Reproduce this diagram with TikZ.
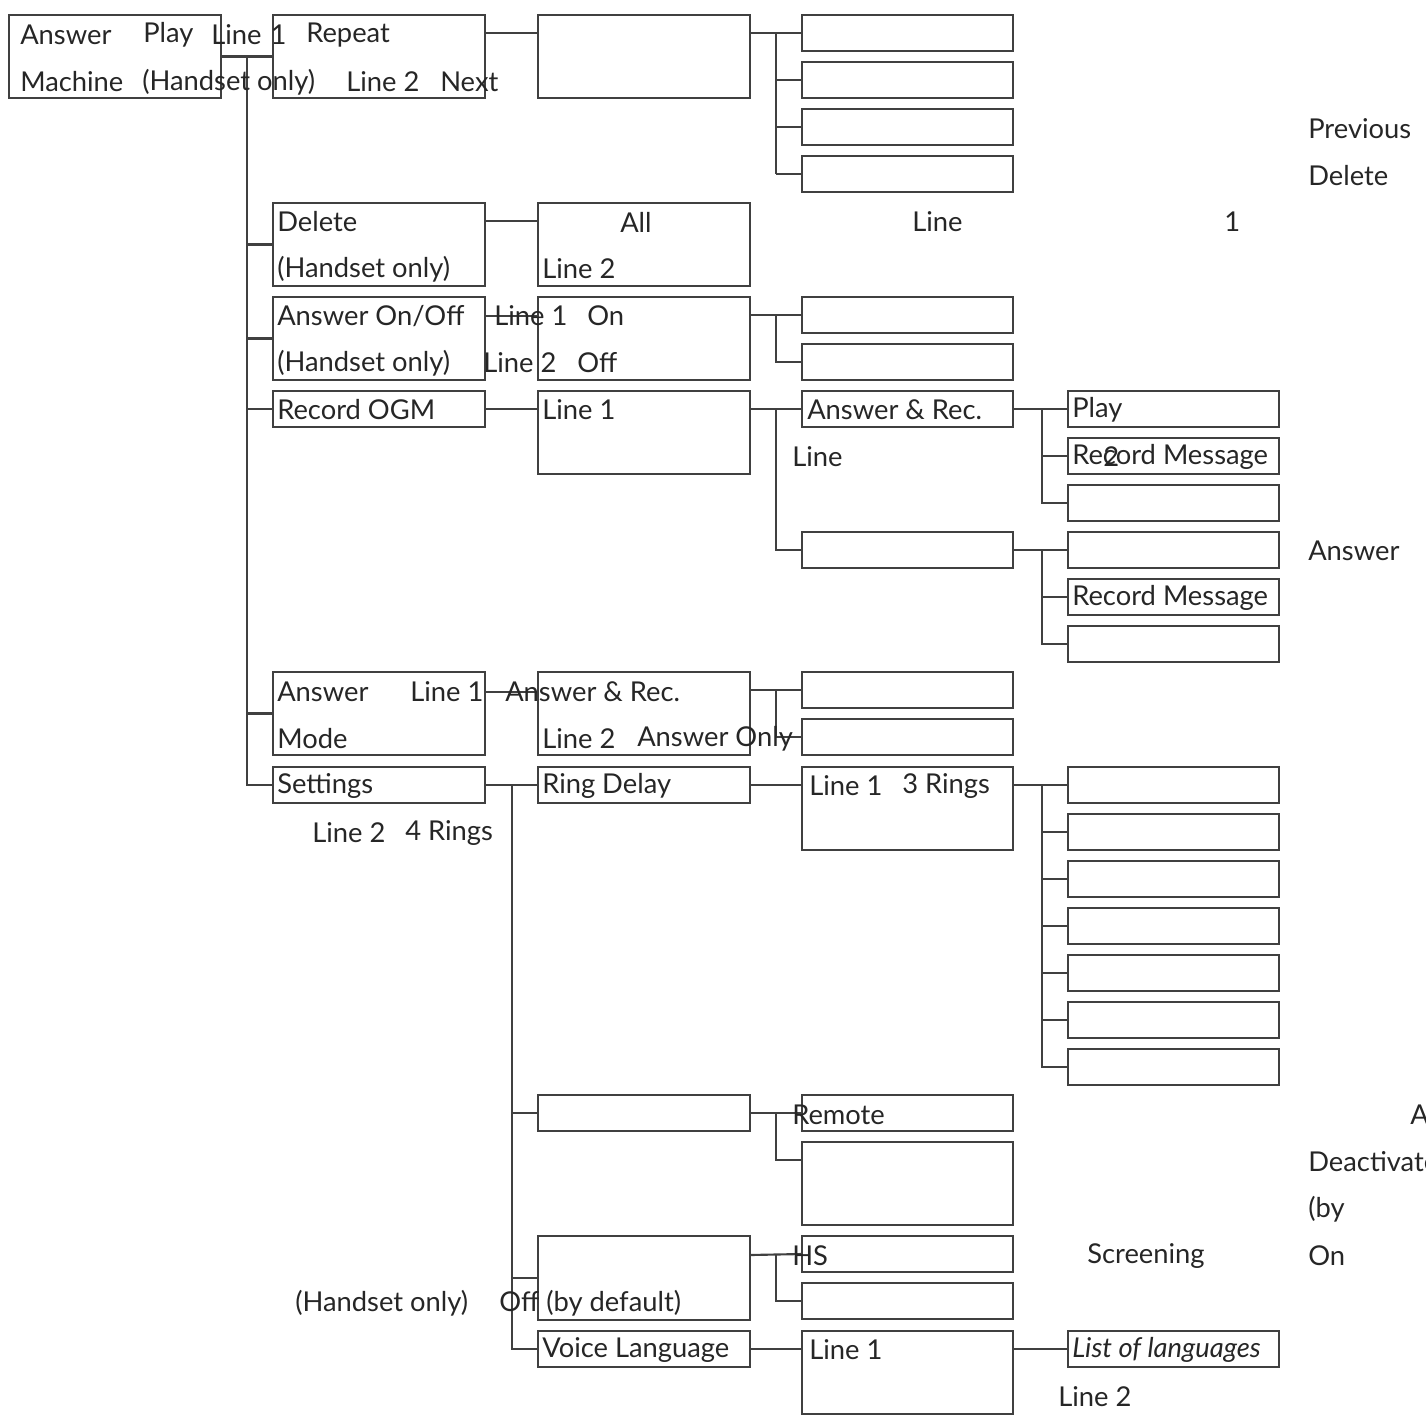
\documentclass[tikz,border=0pt]{standalone}
\usepackage{fontspec}
\setmainfont{Lato}
\begin{document}
\begin{tikzpicture}[x=0.75pt,y=-0.75pt,
 box/.style={draw=black!75,line width=1.6pt,inner sep=0pt,outer sep=0pt,anchor=north west},
 ln/.style={draw=black!75,line width=1.6pt},
 t/.style={anchor=west,inner sep=0pt,font=\fontsize{20.5}{24}\selectfont,text=black!85}]
\useasboundingbox (0,0) rectangle (1426,1420);
\clip (0,0) rectangle (1426,1420);
\newcommand\bx[5]{\node[box,minimum width={(#4-#2)*0.75pt},minimum height={(#5-#3)*0.75pt}] (#1) at (#2,#3) {};}
% column A
\bx{a}{9}{15}{221}{98}
% column B
\bx{b1}{273}{15}{485}{98}
\bx{b2}{273}{203}{485}{286}
\bx{b3}{273}{297}{485}{380}
\bx{b4}{273}{391}{485}{427}
\bx{b5}{273}{672}{485}{755}
\bx{b6}{273}{767}{485}{803}
% column C
\bx{c1}{538}{15}{750}{98}
\bx{c2}{538}{203}{750}{286}
\bx{c3}{538}{297}{750}{380}
\bx{c4}{538}{391}{750}{474}
\bx{c5}{538}{672}{750}{755}
\bx{c6}{538}{767}{750}{803}
\bx{c7}{538}{1095}{750}{1131}
\bx{c8}{538}{1236}{750}{1320}
\bx{c9}{538}{1331}{750}{1367}
% column D
\bx{d1}{802}{15}{1013}{51}
\bx{d2}{802}{62}{1013}{98}
\bx{d3}{802}{109}{1013}{145}
\bx{d4}{802}{156}{1013}{192}
\bx{d5}{802}{297}{1013}{333}
\bx{d6}{802}{344}{1013}{380}
\bx{d7}{802}{391}{1013}{427}
\bx{d8}{802}{532}{1013}{568}
\bx{d9}{802}{672}{1013}{708}
\bx{d10}{802}{719}{1013}{755}
\bx{d11}{802}{767}{1013}{850}
\bx{d12}{802}{1095}{1013}{1131}
\bx{d13}{802}{1142}{1013}{1225}
\bx{d14}{802}{1236}{1013}{1272}
\bx{d15}{802}{1283}{1013}{1319}
\bx{d16}{802}{1331}{1013}{1414}
% column E
\bx{e1}{1068}{391}{1279}{427}
\bx{e2}{1068}{438}{1279}{474}
\bx{e3}{1068}{485}{1279}{521}
\bx{e4}{1068}{532}{1279}{568}
\bx{e5}{1068}{579}{1279}{615}
\bx{e6}{1068}{626}{1279}{662}
\bx{e7}{1068}{767}{1279}{803}
\bx{e8}{1068}{814}{1279}{850}
\bx{e9}{1068}{861}{1279}{897}
\bx{e10}{1068}{908}{1279}{944}
\bx{e11}{1068}{955}{1279}{991}
\bx{e12}{1068}{1002}{1279}{1038}
\bx{e13}{1068}{1049}{1279}{1085}
\bx{e14}{1068}{1331}{1279}{1367}
% A -> B
\coordinate (ta) at (247,57);
\draw[ln] (a.east) -- (b1.west);
\draw[ln] (ta) -- (ta |- b6.west) -- (b6.west);
\foreach \n in {b2,b3,b4,b5} \draw[ln] (ta |- \n.west) -- (\n.west);
% B -> C
\draw[ln] (b1.east |- 0,33) -- (c1.west |- 0,33);
\draw[ln] (b2.east |- 0,221) -- (c2.west |- 0,221);
\draw[ln] (b3.east |- 0,316) -- (c3.west |- 0,316);
\draw[ln] (b4.east) -- (b4.east -| c4.west);
\draw[ln] (b5.east |- 0,692) -- (c5.west |- 0,692);
\coordinate (tb) at (512,785);
\draw[ln] (b6.east) -- (c6.west);
\draw[ln] (tb) -- (tb |- c9.west) -- (c9.west);
\foreach \n in {c7,c8} \draw[ln] (tb |- \n.west) -- (\n.west);
% C -> D
\draw[ln] (c1.east |- d1.west) -- (d1.west);
\draw[ln] (776,33) -- (776,174);
\foreach \n in {d2,d3,d4} \draw[ln] (776,0 |- \n.west) -- (\n.west);
\draw[ln] (c3.east |- d5.west) -- (d5.west);
\draw[ln] (776,316) |- (d6.west);
\draw[ln] (c4.east |- d7.west) -- (d7.west);
\draw[ln] (776,409) |- (d8.west);
\draw[ln] (c5.east |- d9.west) -- (d9.west);
\draw[ln] (776,690) |- (d10.west);
\draw[ln] (c6.east) -- (c6.east -| d11.west);
\draw[ln] (c7.east) -- (c7.east -| d12.west);
\draw[ln] (776,1113) |- (776,1160) -- (802,1160);
\draw[ln] (750,1255) -- (d14.west);
\draw[ln] (776,1255) |- (d15.west);
\draw[ln] (c9.east) -- (c9.east -| d16.west);
% D -> E
\draw[ln] (d7.east) -- (e1.west);
\draw[ln] (1042,409) |- (e3.west);
\draw[ln] (1042,0 |- e2.west) -- (e2.west);
\draw[ln] (d8.east) -- (e4.west);
\draw[ln] (1042,550) |- (e6.west);
\draw[ln] (1042,0 |- e5.west) -- (e5.west);
\draw[ln] (d11.east |- e7.west) -- (e7.west);
\draw[ln] (1042,785) |- (e13.west);
\foreach \n in {e8,e9,e10,e11,e12} \draw[ln] (1042,0 |- \n.west) -- (\n.west);
\draw[ln] (d16.east |- e14.west) -- (e14.west);
% texts
\node[t] (x1) at (20,35) {Answer};
\node[t] (x2) at (143,35) {Play};
\node[t] (x3) at (211,35) {Line\,\,1};
\node[t] (x4) at (306,35) {Repeat};
\node[t] (x5) at (20,82) {Machine};
\node[t] (x6) at (142,82) {(Handset only)};
\node[t] (x7) at (346,82) {Line 2};
\node[t] (x8) at (440,82) {Next};
\node[t] (x9) at (1308,129) {Previous};
\node[t] (x10) at (1308,176) {Delete};
\node[t] (x11) at (277,222) {Delete};
\node[t] (x12) at (277,269) {(Handset only)};
\node[t] (x13) at (620,222) {All};
\node[t] (x14) at (542,269) {Line 2};
\node[t] (x15) at (912,222) {Line};
\node[t] (x16) at (1224,222) {1};
\node[t] (x17) at (277,316) {Answer On/Off};
\node[t] (x18) at (277,363) {(Handset only)};
\node[t] (x19) at (494,316) {Line 1};
\node[t] (x20) at (587,316) {On};
\node[t] (x21) at (483,363) {Line 2};
\node[t] (x22) at (577,363) {Off};
\node[t] (x23) at (277,410) {Record OGM};
\node[t] (x24) at (542,410) {Line 1};
\node[t] (x25) at (807,410) {Answer \& Rec.};
\node[t] (x26) at (792,457) {Line};
\node[t] (x27) at (1072,410) {Play};
\node[t] (x28) at (1072,457) {Record Message};
\node[t] (x29) at (1103,457) {2};
\node[t] (x30) at (1308,551) {Answer};
\node[t] (x31) at (1072,598) {Record Message};
\node[t] (x32) at (277,692) {Answer};
\node[t] (x33) at (410,692) {Line 1};
\node[t] (x34) at (505,692) {Answer \& Rec.};
\node[t] (x35) at (277,739) {Mode};
\node[t] (x36) at (542,739) {Line 2};
\node[t] (x37) at (637,739) {Answer Only};
\node[t] (x38) at (277,786) {Settings};
\node[t] (x39) at (312,833) {Line 2};
\node[t] (x40) at (405,833) {4 Rings};
\node[t] (x41) at (542,786) {Ring Delay};
\node[t] (x42) at (809,786) {Line 1};
\node[t] (x43) at (902,786) {3 Rings};
\node[t] (x44) at (792,1115) {Remote};
\node[t] (x45) at (1410,1115) {A};
\node[t] (x46) at (1308,1162) {Deactivate};
\node[t] (x47) at (1308,1209) {(by};
\node[t] (x48) at (1308,1256) {On};
\node[t] (x49) at (792,1256) {HS};
\node[t] (x50) at (1087,1256) {Screening};
\node[t] (x51) at (295,1303) {(Handset only)};
\node[t] (x52) at (499,1303) {Off (by default)};
\node[t] (x53) at (542,1350) {Voice Language};
\node[t] (x54) at (809,1350) {Line 1};
\node[t] (x55) at (1072,1350) {\itshape List of languages};
\node[t] (x56) at (1058,1397) {Line 2};
\end{tikzpicture}
\end{document}
